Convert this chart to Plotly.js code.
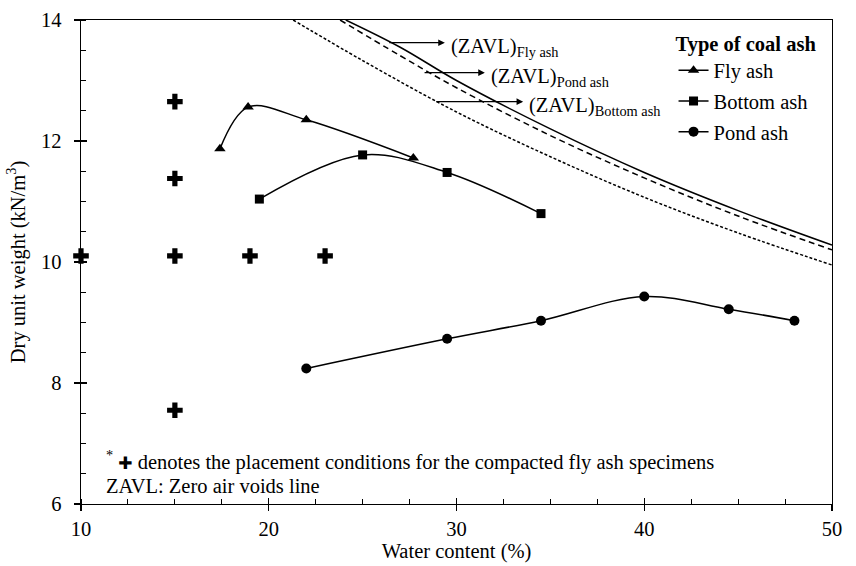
<!DOCTYPE html>
<html>
<head>
<meta charset="utf-8">
<script src="https://cdn.plot.ly/plotly-3.0.1.min.js"></script>
<style>html,body{margin:0;padding:0;background:#fff;}#chart{width:856px;height:566px;}</style>
</head>
<body>
<div id="chart"></div>
<script>
// Compaction data (water content %, dry unit weight kN/m3)
const flyW = [17.4, 18.9, 22, 27.7];
const flyG = [11.87, 12.56, 12.35, 11.72];
const bottomW = [19.5, 25, 29.5, 34.5];
const bottomG = [11.04, 11.77, 11.48, 10.80];
const pondW = [22, 29.5, 34.5, 40, 44.5, 48];
const pondG = [8.24, 8.73, 9.03, 9.43, 9.22, 9.03];
// Placement conditions for compacted fly ash specimens
const placeW = [10, 15, 15, 15, 15, 19, 23];
const placeG = [10.1, 12.65, 11.38, 10.1, 7.55, 10.1, 10.1];
// Zero air voids lines
const zavlFlyW = [24.1, 27, 30, 35, 40, 45, 50];
const zavlFlyG = [14.0, 13.55, 13.0, 12.2, 11.48, 10.85, 10.28];
const zavlPondW = [23.8, 27, 30, 35, 40, 45, 50];
const zavlPondG = [14.0, 13.41, 12.88, 12.09, 11.39, 10.76, 10.2];
const zavlBottomW = [21.3, 25, 30, 35, 40, 45, 50];
const zavlBottomG = [14.0, 13.33, 12.48, 11.74, 11.07, 10.48, 9.95];

const xTicks = [10, 20, 30, 40, 50];
const yTicks = [6, 8, 10, 12, 14];

const FONT = 'Liberation Serif, Times New Roman, serif';
const BLACK = '#000000';

const traces = [
  {x: zavlFlyW, y: zavlFlyG, mode: 'lines', line: {color: BLACK, width: 1.5, shape: 'spline'}, showlegend: false, hoverinfo: 'skip'},
  {x: zavlPondW, y: zavlPondG, mode: 'lines', line: {color: BLACK, width: 1.5, shape: 'spline', dash: '6px,4px'}, showlegend: false, hoverinfo: 'skip'},
  {x: zavlBottomW, y: zavlBottomG, mode: 'lines', line: {color: BLACK, width: 1.5, shape: 'spline', dash: '3px,2px'}, showlegend: false, hoverinfo: 'skip'},
  {x: flyW, y: flyG, name: 'Fly ash', legendgroup: 'g1', mode: 'lines+markers', line: {color: BLACK, width: 1.5, shape: 'spline'}, marker: {symbol: 'triangle-up', size: 10, color: BLACK}},
  {x: bottomW, y: bottomG, name: 'Bottom ash', legendgroup: 'g2', mode: 'lines+markers', line: {color: BLACK, width: 1.5, shape: 'spline'}, marker: {symbol: 'square', size: 9, color: BLACK}},
  {x: pondW, y: pondG, name: 'Pond ash', legendgroup: 'g3', mode: 'lines+markers', line: {color: BLACK, width: 1.5, shape: 'spline'}, marker: {symbol: 'circle', size: 10, color: BLACK}},
  {x: placeW, y: placeG, mode: 'markers', marker: {symbol: 'cross', size: 13, color: BLACK}, showlegend: false, cliponaxis: false},
  {x: [], y: [], xaxis: 'x2', yaxis: 'y2', showlegend: false}
];

function arrow(hx, hy, tx, ty) {
  return {x: hx, y: hy, ax: tx, ay: ty, xref: 'x', yref: 'y', axref: 'x', ayref: 'y',
    text: '', showarrow: true, arrowhead: 2, arrowsize: 1.1, arrowwidth: 1.2, arrowcolor: BLACK};
}
function label(x, y, t) {
  return {x: x, y: y, xref: 'x', yref: 'y', text: t, showarrow: false, xanchor: 'left', yanchor: 'middle',
    yshift: -5, font: {family: FONT, size: 20.5, color: BLACK}};
}

const layout = {
  width: 856, height: 566,
  margin: {l: 81, r: 24, t: 20, b: 62},
  paper_bgcolor: '#ffffff', plot_bgcolor: '#ffffff',
  font: {family: FONT, size: 20, color: BLACK},
  showlegend: true,
  legend: {
    x: 0.789, y: 0.992, xanchor: 'left', yanchor: 'top', bgcolor: 'rgba(0,0,0,0)',
    title: {text: '<b>Type of coal ash</b>', font: {family: FONT, size: 20.5, color: BLACK}},
    font: {family: FONT, size: 20.5, color: BLACK}, itemwidth: 30, tracegroupgap: 1
  },
  xaxis: {
    range: [10, 50], tickvals: xTicks, ticktext: xTicks.map(String),
    ticks: 'outside', ticklen: 6, tickwidth: 1.3, tickcolor: BLACK,
    showline: true, linecolor: BLACK, linewidth: 1.3, mirror: true,
    showgrid: false, zeroline: false,
    minor: {dtick: 2.5, ticks: 'inside', ticklen: 5, tickwidth: 1, tickcolor: BLACK, showgrid: false},
    title: {text: 'Water content (%)', font: {family: FONT, size: 20.5, color: BLACK}, standoff: 4},
    tickfont: {family: FONT, size: 20.5, color: BLACK}
  },
  yaxis: {
    range: [6, 14], tickvals: yTicks, ticktext: yTicks.map(String),
    ticks: 'outside', ticklen: 6, tickwidth: 1.3, tickcolor: BLACK, ticklabelstandoff: 8,
    showline: true, linecolor: BLACK, linewidth: 1.3, mirror: true,
    showgrid: false, zeroline: false,
    minor: {dtick: 0.5, ticks: 'inside', ticklen: 5, tickwidth: 1, tickcolor: BLACK, showgrid: false},
    title: {text: 'Dry unit weight (kN/m<sup>3</sup>)', font: {family: FONT, size: 20.5, color: BLACK}, standoff: 10},
    tickfont: {family: FONT, size: 20.5, color: BLACK}
  },
  xaxis2: {range: [10, 50], overlaying: 'x', anchor: 'y', tickvals: xTicks, ticks: 'inside', ticklen: 6, tickwidth: 1.3, tickcolor: BLACK, showticklabels: false, showline: false, showgrid: false, zeroline: false},
  yaxis2: {range: [6, 14], overlaying: 'y', anchor: 'x', tickvals: yTicks, ticks: 'inside', ticklen: 6, tickwidth: 1.3, tickcolor: BLACK, showticklabels: false, showline: false, showgrid: false, zeroline: false},
  annotations: [
    arrow(29.38, 13.625, 26.34, 13.625),
    arrow(31.51, 13.13, 28.22, 13.13),
    arrow(33.55, 12.65, 28.84, 12.65),
    label(29.62, 13.625, '(ZAVL)<sub>Fly ash</sub>'),
    label(31.75, 13.13, '(ZAVL)<sub>Pond ash</sub>'),
    label(33.77, 12.65, '(ZAVL)<sub>Bottom ash</sub>'),
    {x: 0.03, y: 0.089, xref: 'paper', yref: 'paper', xanchor: 'left', yanchor: 'middle', showarrow: false,
      text: '<sup>*</sup> <span style="font-family:DejaVu Sans;font-size:17px">✚</span> denotes the placement conditions for the compacted fly ash specimens',
      font: {family: FONT, size: 20.5, color: BLACK}},
    {x: 0.03, y: 0.037, xref: 'paper', yref: 'paper', xanchor: 'left', yanchor: 'middle', showarrow: false,
      text: 'ZAVL: Zero air voids line', font: {family: FONT, size: 20.5, color: BLACK}}
  ]
};

Plotly.newPlot('chart', traces, layout, {staticPlot: true, displayModeBar: false});
</script>
</body>
</html>
